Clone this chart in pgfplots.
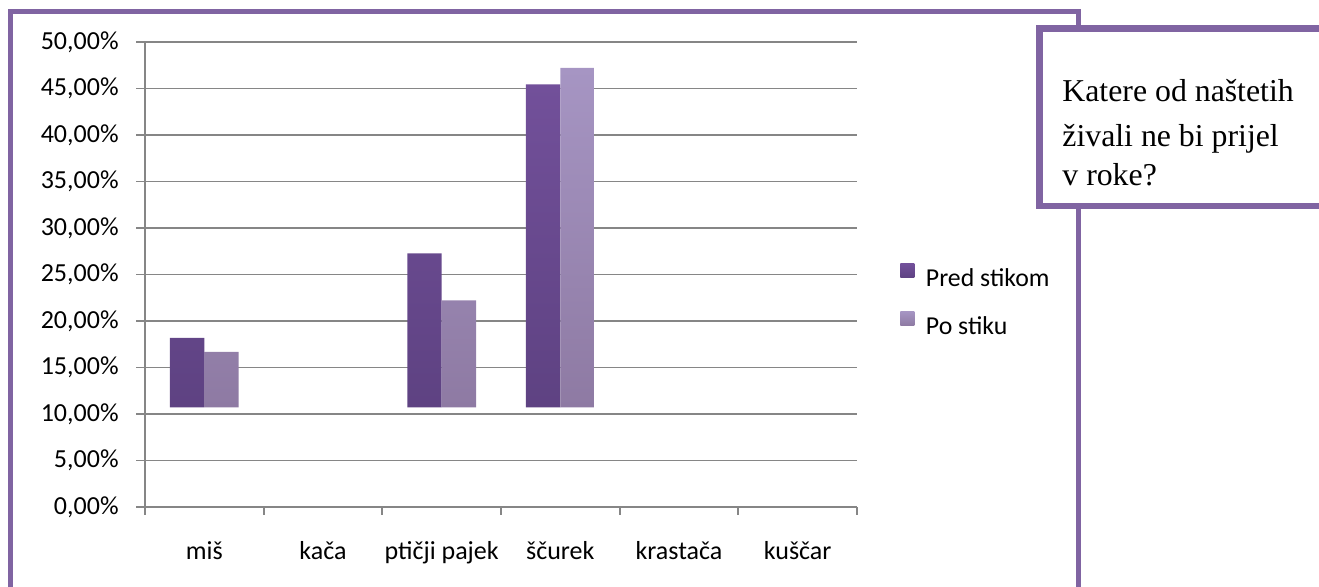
\documentclass[border=0pt]{standalone}
\usepackage{pgfplots}
\pgfplotsset{compat=1.18}
\usepackage{pgfplotstable}
\usepackage{fontspec}
\setmainfont{Carlito}
\newfontfamily\timesf{Liberation Serif}
\definecolor{framec}{HTML}{8064A2}
\definecolor{gridc}{HTML}{868686}
\definecolor{predT}{HTML}{72509A}
\definecolor{predB}{HTML}{5E4282}
\definecolor{poT}{HTML}{A695C3}
\definecolor{poB}{HTML}{8E7AA3}

\pgfplotstableread{
x pred po
0 18.18 16.67
2 27.27 22.22
3 45.45 47.22
}\data

\begin{document}
\begin{tikzpicture}
\useasboundingbox (0pt,0pt) rectangle (659.5pt,-293.5pt);
\begin{scope}
\clip (0pt,0pt) rectangle (659.5pt,-293.5pt);
\draw[framec, line width=2.5pt] (5.25pt,-6pt) rectangle (539pt,-320pt);
\end{scope}
\begin{axis}[
  at={(72.5pt,-253.5pt)}, anchor=south west,
  scale only axis, width=356pt, height=232.5pt,
  xmin=-0.5, xmax=5.5, ymin=0, ymax=50,
  y coord trafo/.code={\pgfmathparse{#1-10.7}},
  y coord inv trafo/.code={\pgfmathparse{#1+10.7}},
  axis lines*=left,
  axis line style={gridc, line width=0.9pt},
  ymajorgrids, grid style={gridc, line width=0.9pt},
  tick align=outside,
  major tick length=4.5pt, minor tick length=4pt,
  tick style={gridc, line width=0.9pt},
  major x tick style={draw=none},
  xtick={0,1,2,3,4,5},
  xticklabels={miš,kača,ptičji pajek,ščurek,krastača,kuščar},
  minor xtick={-0.5,0.5,1.5,2.5,3.5,4.5,5.5},
  ytick={0,5,10,15,20,25,30,35,40,45,50},
  yticklabels={{0,00\%},{5,00\%},{10,00\%},{15,00\%},{20,00\%},{25,00\%},{30,00\%},{35,00\%},{40,00\%},{45,00\%},{50,00\%}},
  ticklabel style={font=\fontsize{13}{15}\selectfont, text=black},
  yticklabel style={anchor=east, inner sep=0pt, xshift=-8.5pt},
  xticklabel style={anchor=base, inner sep=0pt, yshift=-22pt},
  every axis plot/.append style={legend image code/.code={\path[##1, draw=none] (0pt,0.6pt) rectangle (7pt,7.6pt);}},
  legend style={draw=none, fill=none, inner sep=0pt, at={(1.0604,0.4398)}, anchor=west,
     font=\fontsize{12.9}{15}\selectfont, row sep=9pt,
     /tikz/every odd column/.append style={column sep=3.8pt}},
  legend cell align=left,
]
\addplot[ybar, bar width=0.29, bar shift=-0.145, draw=none, top color=predT, bottom color=predB]
  table[x=x, y=pred]{\data};
\addplot[ybar, bar width=0.29, bar shift=0.145, draw=none, top color=poT, bottom color=poB]
  table[x=x, y=po]{\data};
\legend{Pred stikom, Po stiku}
\end{axis}
\begin{scope}
\clip (0pt,0pt) rectangle (659.5pt,-293.5pt);
\draw[framec, line width=3.25pt, fill=white] (519.75pt,-14.25pt) rectangle (675pt,-103pt);
\end{scope}
\node[anchor=base west, inner sep=0pt, font=\timesf\fontsize{15.9}{18}\selectfont] at (531pt,-51pt) {Katere od naštetih};
\node[anchor=base west, inner sep=0pt, font=\timesf\fontsize{15.9}{18}\selectfont] at (531pt,-73.5pt) {živali ne bi prijel};
\node[anchor=base west, inner sep=0pt, font=\timesf\fontsize{15.9}{18}\selectfont] at (531pt,-93pt) {v roke?};
\end{tikzpicture}
\end{document}
